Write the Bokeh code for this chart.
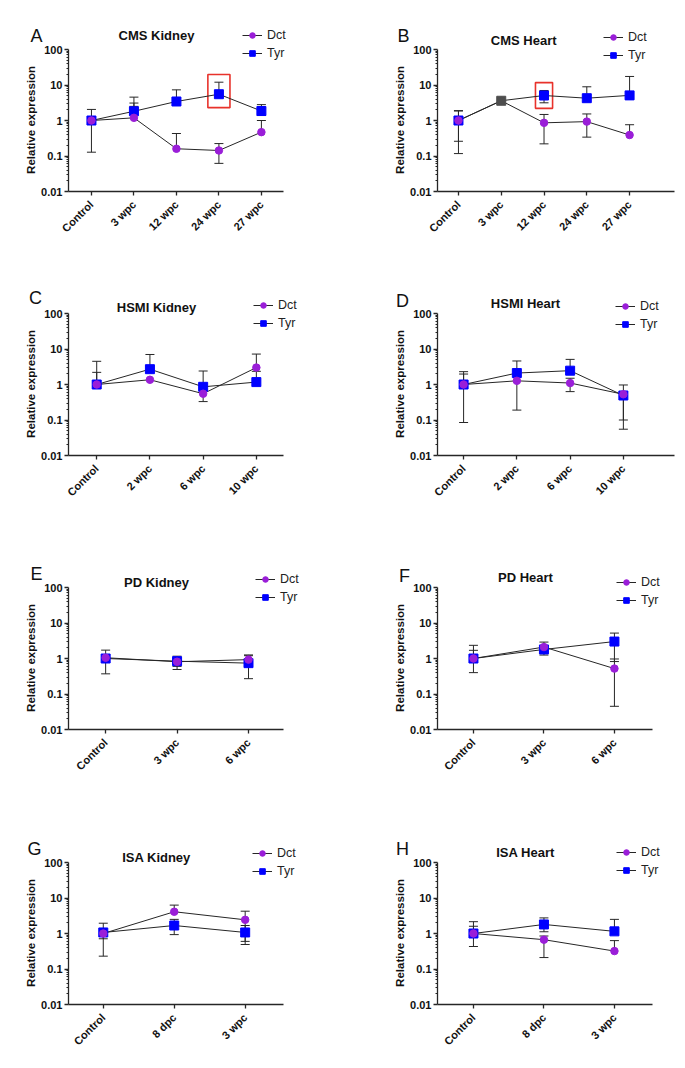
import math
from bokeh.plotting import figure
from bokeh.models import FixedTicker, Label, Range1d, ColumnDataSource
from bokeh.layouts import column, row
from bokeh.embed import file_html
from bokeh.resources import INLINE

# ---------------- data ----------------
cms_cats = ["Control", "3 wpc", "12 wpc", "24 wpc", "27 wpc"]
hsmi_cats = ["Control", "2 wpc", "6 wpc", "10 wpc"]
pd_cats = ["Control", "3 wpc", "6 wpc"]
isa_cats = ["Control", "8 dpc", "3 wpc"]

# A: CMS Kidney
a_dct = [1.0, 1.19, 0.16, 0.143, 0.47]
a_dct_up = [2.05, 2.5, 0.43, 0.224, 1.0]
a_dct_low = [None, None, None, 0.062, None]
a_tyr = [1.0, 1.82, 3.43, 5.5, 1.85]
a_tyr_up = [None, 4.55, 7.3, 12.0, 2.8]
a_tyr_low = [0.128, 3.1, None, None, 1.38]

# B: CMS Heart
b_dct = [1.0, 3.6, 0.86, 0.93, 0.39]
b_dct_up = [1.9, None, 1.48, 1.53, 0.76]
b_dct_low = [0.26, None, 0.22, 0.34, None]
b_tyr = [1.0, 3.6, 5.06, 4.25, 5.1]
b_tyr_up = [1.85, None, 7.0, 8.9, 17.4]
b_tyr_low = [0.117, None, 3.15, None, None]

# C: HSMI Kidney
c_dct = [1.0, 1.36, 0.55, 3.0]
c_dct_up = [2.2, None, None, 7.2]
c_dct_low = [None, None, 0.33, None]
c_tyr = [1.0, 2.7, 0.86, 1.17]
c_tyr_up = [4.5, 7.0, 2.4, 2.35]
c_tyr_low = [None, None, None, None]

# D: HSMI Heart
d_dct = [1.0, 1.27, 1.1, 0.53]
d_dct_up = [1.97, None, 1.5, 0.97]
d_dct_low = [None, 0.19, 0.63, 0.10]
d_tyr = [1.0, 2.1, 2.45, 0.49]
d_tyr_up = [2.3, 4.6, 5.1, None]
d_tyr_low = [0.085, None, None, 0.055]

# E: PD Kidney
e_dct = [1.05, 0.81, 0.93]
e_dct_up = [None, None, 1.2]
e_dct_low = [None, 0.49, None]
e_tyr = [1.0, 0.84, 0.74]
e_tyr_up = [1.72, 1.16, 1.26]
e_tyr_low = [0.37, 0.6, 0.27]

# F: PD Heart
f_dct = [1.0, 2.1, 0.52]
f_dct_up = [2.35, 2.9, 0.97]
f_dct_low = [None, None, 0.045]
f_tyr = [1.0, 1.8, 3.0]
f_tyr_up = [1.7, None, 5.2]
f_tyr_low = [0.4, 1.25, 0.82]

# G: ISA Kidney
g_dct = [1.0, 4.1, 2.43]
g_dct_up = [None, 6.3, 4.25]
g_dct_low = [0.23, None, 0.6]
g_tyr = [1.07, 1.68, 1.07]
g_tyr_up = [1.95, 2.5, 1.68]
g_tyr_low = [0.71, 0.93, 0.49]

# H: ISA Heart
h_dct = [1.0, 0.67, 0.32]
h_dct_up = [1.6, 0.85, 0.63]
h_dct_low = [None, 0.21, None]
h_tyr = [1.0, 1.8, 1.15]
h_tyr_up = [2.15, 2.75, 2.5]
h_tyr_low = [0.43, 1.12, None]

y_ticks = [0.01, 0.1, 1, 10, 100]
y_tick_labels = ["0.01", "0.1", "1", "10", "100"]

# highlighted points (red boxes): (category, low, high)
a_box = ("24 wpc", 2.3, 19.8)
b_box = ("12 wpc", 2.2, 11.7)

# ---------------- styling / layout ----------------
DCT_COLOR = "#9A1ED8"
TYR_COLOR = "#0000FF"
OVERLAP_COLOR = "#4d4d4d"
LINE_COLOR = "#262626"
FONT = "Liberation Sans"
DATA_H = 142          # px from 0.01 to 100
EXT = 30              # extra frame space above the "100" line (title + legend live here)
Y_TOP = 100 * 10 ** (EXT / (DATA_H / 4.0))
NBSP = "\u00a0"

panels = [
    dict(letter="A", title="CMS Kidney", cats=cms_cats, dct=a_dct, dct_up=a_dct_up, dct_low=a_dct_low,
         tyr=a_tyr, tyr_up=a_tyr_up, tyr_low=a_tyr_low, box=a_box, box_hw=0.26,
         xr=(-0.54, 4.52), dw=215, letter_dy=14, title_dy=14, leg_dy=14, leg_x=184),
    dict(letter="B", title="CMS  Heart", cats=cms_cats, dct=b_dct, dct_up=b_dct_up, dct_low=b_dct_low,
         tyr=b_tyr, tyr_up=b_tyr_up, tyr_low=b_tyr_low, box=b_box, box_hw=0.20, overlap=[1],
         xr=(-0.49, 5.05), dw=237, letter_dy=14, title_dy=9, leg_dy=12, leg_x=176),
    dict(letter="C", title="HSMI Kidney", cats=hsmi_cats, dct=c_dct, dct_up=c_dct_up, dct_low=c_dct_low,
         tyr=c_tyr, tyr_up=c_tyr_up, tyr_low=c_tyr_low,
         xr=(-0.53, 3.51), dw=215, letter_dy=16, title_dy=6, leg_dy=8, leg_x=195),
    dict(letter="D", title="HSMI Heart", cats=hsmi_cats, dct=d_dct, dct_up=d_dct_up, dct_low=d_dct_low,
         tyr=d_tyr, tyr_up=d_tyr_up, tyr_low=d_tyr_low,
         xr=(-0.49, 3.96), dw=237, letter_dy=13, title_dy=10, leg_dy=7, leg_x=188),
    dict(letter="E", title="PD Kidney", cats=pd_cats, dct=e_dct, dct_up=e_dct_up, dct_low=e_dct_low,
         tyr=e_tyr, tyr_up=e_tyr_up, tyr_low=e_tyr_low,
         xr=(-0.52, 2.49), dw=215, letter_dy=14, title_dy=5, leg_dy=8, leg_x=197),
    dict(letter="F", title="PD Heart", cats=pd_cats, dct=f_dct, dct_up=f_dct_up, dct_low=f_dct_low,
         tyr=f_tyr, tyr_up=f_tyr_up, tyr_low=f_tyr_low,
         xr=(-0.51, 2.54), dw=215, letter_dy=12, title_dy=10, leg_dy=5, leg_x=189),
    dict(letter="G", title="ISA Kidney", cats=isa_cats, dct=g_dct, dct_up=g_dct_up, dct_low=g_dct_low,
         tyr=g_tyr, tyr_up=g_tyr_up, tyr_low=g_tyr_low,
         xr=(-0.49, 2.54), dw=215, letter_dy=14, title_dy=5, leg_dy=9, leg_x=194),
    dict(letter="H", title="ISA Heart", cats=isa_cats, dct=h_dct, dct_up=h_dct_up, dct_low=h_dct_low,
         tyr=h_tyr, tyr_up=h_tyr_up, tyr_low=h_tyr_low,
         xr=(-0.51, 2.54), dw=215, letter_dy=14, title_dy=10, leg_dy=10, leg_x=189),
]

ROW_TOP = [19, 11, 11, 11]
ROW_BOTTOM = [81, 91, 92, 56]
COL = [dict(left=68, fw=302, right=7, letter_x=26), dict(left=60, fw=238, right=2, letter_x=24)]


def err_parts(xs, vals, ups, lows):
    sx, y0, y1, cx, cy = [], [], [], [], []
    for x, v, u, l in zip(xs, vals, ups, lows):
        if u is not None:
            sx.append(x); y0.append(v); y1.append(u); cx.append(x); cy.append(u)
        if l is not None:
            sx.append(x); y0.append(l); y1.append(v); cx.append(x); cy.append(l)
    return sx, y0, y1, cx, cy


def make_panel(k, d):
    r, c = divmod(k, 2)
    col = COL[c]
    n = len(d["cats"])
    xs = list(range(n))
    x0, x1 = d["xr"]
    unit_px = d["dw"] / (x1 - x0)
    x_end = x0 + col["fw"] / unit_px
    p = figure(frame_width=col["fw"], frame_height=DATA_H + EXT, y_axis_type="log",
               x_range=Range1d(x0, x_end), y_range=Range1d(0.01, Y_TOP),
               output_backend="svg", toolbar_location=None, title=None,
               min_border_left=col["left"], min_border_right=col["right"],
               min_border_top=ROW_TOP[r], min_border_bottom=ROW_BOTTOM[r],
               background_fill_color="white", border_fill_color="white")
    p.outline_line_color = None
    p.xgrid.visible = False
    p.ygrid.visible = False

    for ax in (p.xaxis[0], p.yaxis[0]):
        ax.axis_line_color = LINE_COLOR
        ax.axis_line_width = 1.3
        ax.major_tick_line_color = LINE_COLOR
        ax.major_tick_line_width = 1.3
        ax.minor_tick_line_color = LINE_COLOR
        ax.major_tick_in = 0
        ax.major_tick_out = 4
        ax.minor_tick_in = 0
        ax.minor_tick_out = 2
        ax.major_label_text_font = FONT
        ax.major_label_text_font_style = "bold"
        ax.major_label_text_font_size = "11px"
        ax.major_label_text_color = "#111111"
    p.xaxis.bounds = (x0, x1)
    p.xaxis.ticker = FixedTicker(ticks=xs)
    p.xaxis.major_label_overrides = {i: cat for i, cat in enumerate(d["cats"])}
    p.xaxis.major_label_orientation = math.pi / 4
    p.xaxis.major_label_standoff = 7
    p.xaxis.minor_tick_line_color = None

    minor = [m * 10 ** e for e in range(-2, 2) for m in range(2, 10)]
    p.yaxis.bounds = (0.01, 100)
    p.yaxis.ticker = FixedTicker(ticks=y_ticks, minor_ticks=minor)
    p.yaxis.major_label_overrides = {t: s for t, s in zip(y_ticks, y_tick_labels)}
    p.yaxis.major_label_standoff = 2
    # trailing no-break spaces keep the label centred on the data area (frame is taller)
    p.yaxis.axis_label = "Relative expression" + NBSP * 9
    p.yaxis.axis_label_text_font = FONT
    p.yaxis.axis_label_text_font_style = "bold"
    p.yaxis.axis_label_text_font_size = "11.5px"
    p.yaxis.axis_label_text_color = "#111111"
    p.yaxis.axis_label_standoff = 1

    if d.get("box"):
        cat, lo, hi = d["box"]
        i = d["cats"].index(cat)
        p.quad(left=[i - d["box_hw"]], right=[i + d["box_hw"]], bottom=[lo], top=[hi],
               fill_alpha=0, line_color="#E8322B", line_width=1.6)

    for vals, ups, lows in ((d["tyr"], d["tyr_up"], d["tyr_low"]), (d["dct"], d["dct_up"], d["dct_low"])):
        sx, y0, y1, cx, cy = err_parts(xs, vals, ups, lows)
        if sx:
            p.segment(x0=sx, y0=y0, x1=sx, y1=y1, line_color=LINE_COLOR, line_width=1)
            p.scatter(cx, cy, marker="dash", size=9, line_color=LINE_COLOR, line_width=1)

    overlap = d.get("overlap", [])
    dct_cols = [OVERLAP_COLOR if i in overlap else DCT_COLOR for i in xs]
    tyr_cols = [OVERLAP_COLOR if i in overlap else TYR_COLOR for i in xs]
    dsrc = ColumnDataSource(dict(x=xs, y=d["dct"], c=dct_cols))
    tsrc = ColumnDataSource(dict(x=xs, y=d["tyr"], c=tyr_cols))

    p.line("x", "y", source=dsrc, line_color=LINE_COLOR, line_width=1, legend_label="Dct")
    p.line("x", "y", source=tsrc, line_color=LINE_COLOR, line_width=1, legend_label="Tyr")
    p.scatter("x", "y", source=tsrc, marker="square", size=9, fill_color="c", line_color="c",
              legend_label="Tyr")
    p.scatter("x", "y", source=dsrc, marker="circle", size=7.5, fill_color="c", line_color="c",
              legend_label="Dct")

    leg = p.legend[0]
    leg.padding = 0
    leg.margin = 0
    leg.spacing = 4
    leg.glyph_width = 20
    leg.glyph_height = 14
    leg.label_height = 14
    leg.label_standoff = 5
    leg.border_line_color = None
    leg.background_fill_alpha = 0
    leg.label_text_font = FONT
    leg.label_text_font_size = "12.5px"
    leg.label_text_color = "#222222"
    leg.location = (d["leg_x"] - 10, DATA_H + d["leg_dy"] - 25)

    p.add_layout(Label(x=88, y=DATA_H + d["title_dy"], x_units="screen", y_units="screen",
                       text=d["title"], text_align="center", text_baseline="middle",
                       text_font=FONT, text_font_size="13px", text_font_style="bold",
                       text_color="#111111"))
    p.add_layout(Label(x=col["letter_x"], y=DATA_H + d["letter_dy"], x_units="screen", y_units="screen",
                       text=d["letter"], text_align="center", text_baseline="middle",
                       text_font=FONT, text_font_size="18px", text_color="#111111"), "left")
    return p


figs = [make_panel(k, d) for k, d in enumerate(panels)]
layout = column(row(figs[0], figs[1]), row(figs[2], figs[3]),
                row(figs[4], figs[5]), row(figs[6], figs[7]))

open("out.html", "w").write(file_html(layout, INLINE))
